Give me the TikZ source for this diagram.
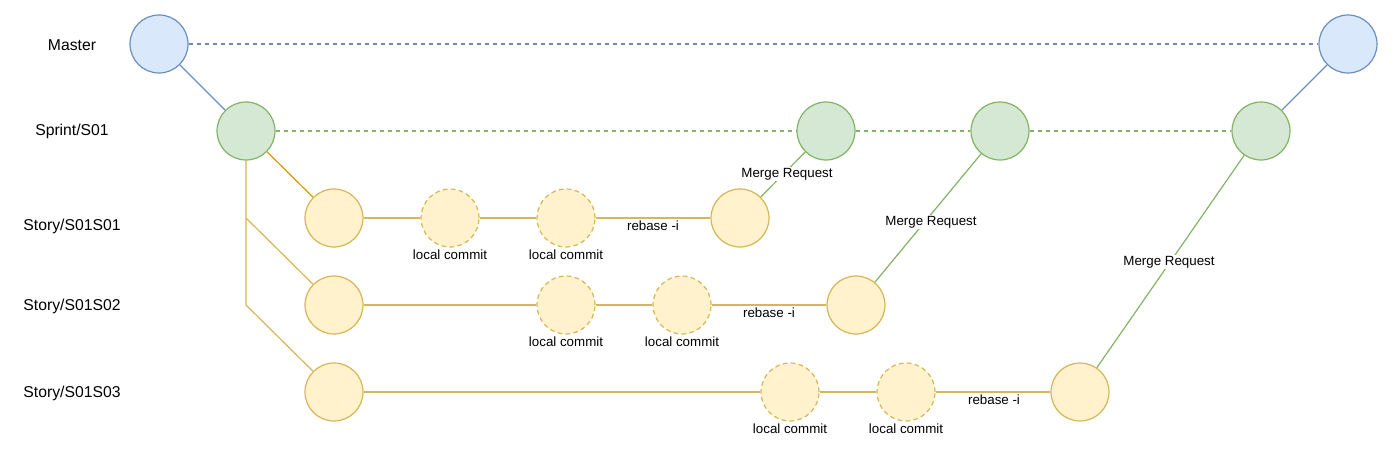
\documentclass[tikz,border=0pt]{standalone}
\usepackage{fontspec}
\setmainfont{Liberation Sans}
\usetikzlibrary{positioning}

\definecolor{mfill}{HTML}{DAE8FC}
\definecolor{mline}{HTML}{6C8EBF}
\definecolor{sfill}{HTML}{D5E8D4}
\definecolor{sline}{HTML}{82B366}
\definecolor{yfill}{HTML}{FFF2CC}
\definecolor{yline}{HTML}{D6B656}
\definecolor{oline}{HTML}{D79B00}

\tikzset{
  commit/.style={circle, draw, line width=0.9pt, minimum size=43.5pt, inner sep=0pt},
  mastercommit/.style={commit, draw=mline, fill=mfill},
  sprintcommit/.style={commit, draw=sline, fill=sfill},
  storycommit/.style={commit, draw=yline, fill=yfill},
  localcommit/.style={storycommit, dash pattern=on 3.5pt off 2.5pt},
  branchname/.style={font=\fontsize{11.8}{14}\selectfont},
  tag/.style={font=\fontsize{10}{12}\selectfont, inner sep=1pt},
  mergetag/.style={tag, fill=white},
  lane/.style={line width=0.9pt},
  dashlane/.style={lane, dash pattern=on 3.5pt off 2.5pt},
}

\begin{document}
\begin{tikzpicture}[x=0.75pt, y=-0.75pt]
  \path[use as bounding box] (0,0) rectangle (1400,460);

  % Branch names
  \node[branchname] (nmaster) at (72,45) {Master};
  \node[branchname] (nsprint) at (72,131) {Sprint/S01};
  \node[branchname] (nsa) at (72,226) {Story/S01S01};
  \node[branchname] (nsb) at (72,306) {Story/S01S02};
  \node[branchname] (nsc) at (72,393) {Story/S01S03};

  % Master
  \node[mastercommit] (m0) at (159,44) {};
  \node[mastercommit] (m1) at (1348,44) {};

  % Sprint
  \node[sprintcommit] (s0) at (246,131) {};
  \node[sprintcommit] (s1) at (826,131) {};
  \node[sprintcommit] (s2) at (1000,131) {};
  \node[sprintcommit] (s3) at (1261,131) {};

  % Story S01S01
  \node[storycommit] (a0) at (334,218) {};
  \node[localcommit] (a1) at (450,218) {};
  \node[localcommit] (a2) at (566,218) {};
  \node[storycommit] (a3) at (740,218) {};

  % Story S01S02
  \node[storycommit] (b0) at (334,305) {};
  \node[localcommit] (b1) at (566,305) {};
  \node[localcommit] (b2) at (682,305) {};
  \node[storycommit] (b3) at (856,305) {};

  % Story S01S03
  \node[storycommit] (c0) at (334,392) {};
  \node[localcommit] (c1) at (790,392) {};
  \node[localcommit] (c2) at (906,392) {};
  \node[storycommit] (c3) at (1080,392) {};

  % local commit labels
  \foreach \n in {a1,a2,b1,b2,c1,c2}
    \node[tag] at ([yshift=-5.5pt]\n.south) {local commit};

  % Master and sprint lines
  \draw[dashlane, mline] (m0) -- (m1);
  \draw[lane, mline] (m0) -- (s0);
  \draw[lane, mline] (s3) -- (m1);
  \draw[dashlane, sline] (s0) -- (s1) -- (s2) -- (s3);

  % Branching off the sprint
  \coordinate (ja) at (246,218);
  \coordinate (jb) at (246,305);
  \draw[lane, oline] (s0) -- (a0);
  \draw[lane, yline] (s0.south) -- (jb) -- (c0);
  \draw[lane, yline] (ja) -- (b0);

  % Story lines
  \draw[lane, yline] (a0) -- (a1) -- (a2) -- (a3);
  \draw[lane, yline] (b0) -- (b1) -- (b2) -- (b3);
  \draw[lane, yline] (c0) -- (c1) -- (c2) -- (c3);
  \node[tag] (ra) at (653,226) {rebase -i};
  \node[tag] (rb) at (769,313) {rebase -i};
  \node[tag] (rc) at (994,400) {rebase -i};

  % Merge requests
  \draw[lane, sline] (a3) -- (s1);
  \draw[lane, sline] (b3) -- (s2);
  \draw[lane, sline] (c3) -- (s3);
  \node[mergetag] (ma) at (787,174) {Merge Request};
  \node[mergetag] (mb) at (931,222) {Merge Request};
  \node[mergetag] (mc) at (1169,262) {Merge Request};
\end{tikzpicture}
\end{document}
